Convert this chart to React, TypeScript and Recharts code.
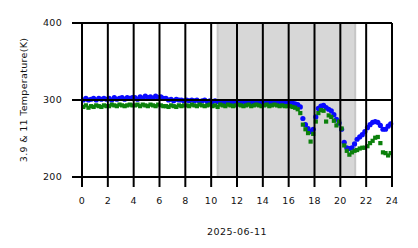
import {
  ScatterChart,
  Scatter,
  XAxis,
  YAxis,
  ReferenceArea,
  ReferenceLine,
} from 'recharts';

// hours of day (UTC) for each sample
const hours = [
  0.1, 0.3, 0.5, 0.7, 0.9, 1.1, 1.3, 1.5, 1.7, 1.9,
  2.1, 2.3, 2.5, 2.7, 2.9, 3.1, 3.3, 3.5, 3.7, 3.9,
  4.1, 4.3, 4.5, 4.7, 4.9, 5.1, 5.3, 5.5, 5.7, 5.9,
  6.1, 6.3, 6.5, 6.7, 6.9, 7.1, 7.3, 7.5, 7.7, 7.9,
  8.1, 8.3, 8.5, 8.7, 8.9, 9.1, 9.3, 9.5, 9.7, 9.9,
  10.1, 10.3, 10.5, 10.7, 10.9, 11.1, 11.3, 11.5, 11.7, 11.9,
  12.1, 12.3, 12.5, 12.7, 12.9, 13.1, 13.3, 13.5, 13.7, 13.9,
  14.1, 14.3, 14.5, 14.7, 14.9, 15.1, 15.3, 15.5, 15.7, 15.9,
  16.1, 16.3, 16.5, 16.7, 16.9, 17.1, 17.3, 17.5, 17.7, 17.9,
  18.1, 18.3, 18.5, 18.7, 18.9, 19.1, 19.3, 19.5, 19.7, 19.9,
  20.1, 20.3, 20.5, 20.7, 20.9, 21.1, 21.3, 21.5, 21.7, 21.9,
  22.1, 22.3, 22.5, 22.7, 22.9, 23.1, 23.3, 23.5, 23.7, 23.9,
];

// 11 micron brightness temperature (K)
const temp11 = [
  300, 302, 300, 301, 302, 300, 302, 301, 302, 301,
  302, 300, 303, 301, 302, 303, 301, 303, 302, 303,
  303, 301, 304, 302, 305, 303, 304, 302, 305, 303,
  304, 302, 302, 300, 301, 299, 301, 300, 300, 299,
  300, 299, 300, 299, 300, 298, 299, 300, 298, 299,
  298, 299, 298, 297, 298, 297, 298, 297, 298, 297,
  298, 297, 298, 297, 298, 297, 298, 297, 298, 297,
  298, 297, 298, 297, 298, 297, 298, 297, 297, 296,
  296, 296, 295, 294, 291, 276, 268, 263, 259, 262,
  278, 289, 292, 293, 290, 288, 286, 281, 275, 270,
  262, 245, 238, 237, 238, 243, 249, 252, 255, 259,
  264, 268, 271, 272, 271, 267, 262, 262, 266, 269,
];

// 3.9 micron brightness temperature (K)
const temp39 = [
  291, 293, 290, 292, 291, 293, 292, 291, 293, 292,
  292, 294, 293, 292, 294, 293, 292, 293, 294, 293,
  293, 294, 292, 294, 293, 292, 294, 293, 292, 294,
  293, 292, 292, 291, 293, 292, 291, 293, 292, 293,
  293, 292, 294, 293, 292, 294, 293, 292, 293, 294,
  292, 293, 291, 294, 293, 292, 294, 293, 292, 293,
  294, 293, 292, 293, 294, 292, 293, 294, 293, 292,
  293, 294, 292, 293, 294, 293, 292, 293, 292, 292,
  292, 291, 290, 288, 283, 268, 262, 257, 246, 256,
  272, 283, 287, 286, 272, 280, 278, 273, 267, 272,
  263, 241, 234, 229, 232, 234, 235, 237, 238, 238,
  240, 244, 247, 251, 252, 244, 232, 231, 228, 231,
];

const xTicks = [0, 2, 4, 6, 8, 10, 12, 14, 16, 18, 20, 22, 24];
const yTicks = [200, 300, 400];
const nightStart = 10.5;
const nightEnd = 21.15;

const blueData = hours.map((h, i) => ({ h, t: temp11[i] }));
const greenData = hours.map((h, i) => ({ h, t: temp39[i] }));

const FONT = '"DejaVu Sans", sans-serif';

function Dot(props: any) {
  return <circle cx={props.cx} cy={props.cy} r={2.6} fill="#0a0aff" />;
}

function Sq(props: any) {
  return <rect x={props.cx - 2.1} y={props.cy - 2.1} width={4.2} height={4.2} fill="#0b800b" />;
}

export default function App() {
  const tickStyle = { fontSize: 9.5, fill: '#111', fontFamily: FONT, letterSpacing: 0.3 };
  return (
    <div style={{ position: 'absolute', left: 0, top: 0, background: '#fff' }}>
      <ScatterChart width={418} height={248} margin={{ top: 23, right: 26, bottom: 0, left: 0 }}>
        <XAxis
          type="number"
          dataKey="h"
          domain={[0, 24]}
          ticks={xTicks}
          interval={0}
          height={71}
          axisLine={false}
          tickSize={10}
          tickMargin={10}
          tickLine={{ stroke: '#000', strokeWidth: 2 }}
          tick={tickStyle}
          label={{
            value: '2025-06-11',
            position: 'insideBottom',
            offset: 13,
            style: { fontSize: 9.5, fill: '#111', fontFamily: FONT, letterSpacing: 0.5 },
          }}
        />
        <YAxis
          type="number"
          dataKey="t"
          domain={[200, 400]}
          ticks={yTicks}
          interval={0}
          width={82}
          axisLine={false}
          tickSize={10}
          tickMargin={10}
          tickLine={{ stroke: '#000', strokeWidth: 2 }}
          tick={tickStyle}
          label={{
            value: '3.9 & 11 Temperature(K)',
            angle: -90,
            position: 'insideLeft',
            offset: 24,
            style: { fontSize: 9.5, fill: '#111', fontFamily: FONT, textAnchor: 'middle', letterSpacing: 0.3 },
          }}
        />
        <ReferenceArea
          x1={nightStart}
          x2={nightEnd}
          y1={200}
          y2={400}
          fill="#d7d7d7"
          fillOpacity={1}
          stroke="#c6c6c6"
          strokeWidth={2}
        />
        <Scatter data={blueData} shape={<Dot />} isAnimationActive={false} />
        <Scatter data={greenData} shape={<Sq />} isAnimationActive={false} />
        {xTicks.map((x) => (
          <ReferenceLine key={'x' + x} x={x} stroke="#000" strokeWidth={2} zIndex={700} />
        ))}
        {yTicks.map((y) => (
          <ReferenceLine key={'y' + y} y={y} stroke="#000" strokeWidth={2} zIndex={700} />
        ))}
      </ScatterChart>
    </div>
  );
}
